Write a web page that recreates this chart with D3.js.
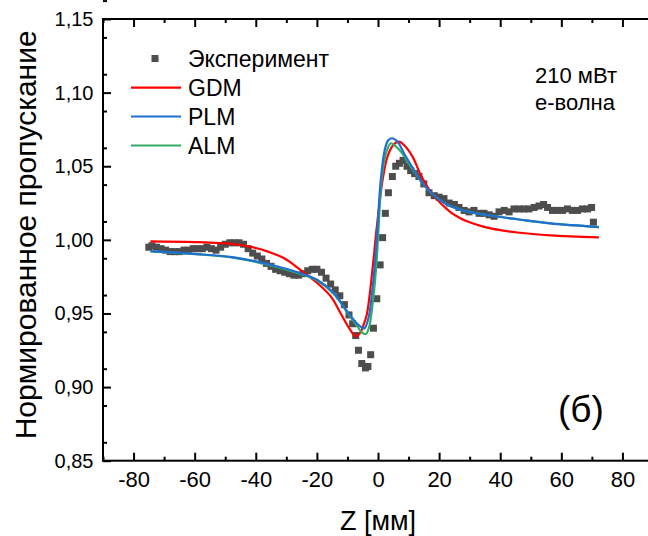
<!DOCTYPE html>
<html><head><meta charset="utf-8">
<script src="https://cdn.jsdelivr.net/npm/d3@7"></script>
<style>
html,body{margin:0;padding:0;background:#fff;}
svg{display:block;}
text{font-family:"Liberation Sans",Arial,sans-serif;fill:#000;}
</style></head>
<body>
<svg id="chart" width="648" height="536"></svg>
<script>
// ---------- data ----------
const expZ = [-75,-74,-72.5,-71,-69.5,-68,-66.5,-65,-63.5,-62,-60.5,-59,-57.5,-56,-54.5,-53,-51.5,-50,-48.5,-47,-45.5,-44,-42.5,-41,-39.5,-38,-36.5,-35,-33.5,-32,-30.5,-29,-27.5,-26,-24.5,-23,-21.5,-20,-18.5,-17,-15.5,-14,-12.5,-11,-9.5,-8.3,-7.3,-6.4,-5.3,-4.1,-3.3,-2.4,-1.5,-0.4,0.7,1.5,2.4,3.4,4.7,5.8,7.0,8.2,9.5,10.7,12.0,13.4,15.0,16.7,18.4,20.0,21.6,23.3,25.0,26.5,28.2,29.8,31.4,33.1,34.7,36.4,38.0,39.6,41.3,42.9,44.5,46.2,47.8,49.4,51.1,52.7,54.2,55.5,57.1,58.7,60.4,62.0,63.6,65.3,66.9,68.6,69.9,70.5];
const expV = [0.995,0.996,0.995,0.994,0.993,0.992,0.992,0.992,0.993,0.993,0.994,0.994,0.994,0.995,0.994,0.993,0.995,0.997,0.998,0.998,0.998,0.997,0.994,0.991,0.989,0.987,0.984,0.982,0.980,0.979,0.978,0.977,0.976,0.976,0.977,0.979,0.980,0.980,0.978,0.974,0.970,0.966,0.962,0.956,0.949,0.943,0.935,0.925,0.916,0.913,0.914,0.922,0.940,0.960,0.983,1.0015,1.018,1.032,1.043,1.050,1.052,1.054,1.050,1.047,1.045,1.043,1.038,1.032,1.030,1.029,1.028,1.025,1.024,1.022,1.020,1.019,1.020,1.018,1.018,1.017,1.016,1.019,1.020,1.019,1.021,1.021,1.021,1.021,1.022,1.023,1.024,1.022,1.020,1.020,1.020,1.021,1.020,1.020,1.021,1.021,1.022,1.012];

const gdmZ = [-74.5,-60,-47,-40,-36,-30.7,-25.3,-19.8,-15.4,-12.2,-9.4,-7.3,-5.8,-4.6,-3.6,-1.6,-0.5,1.5,3.1,5.0,6.9,8.5,11.3,14.0,17.3,20.5,23.8,27.1,29.3,34.7,40,45.6,56.5,72.3];
const gdmV = [0.9990,0.9985,0.9970,0.9945,0.9920,0.9875,0.9795,0.9705,0.9614,0.9500,0.9399,0.9345,0.9370,0.9430,0.9500,0.9840,1.0067,1.0406,1.0565,1.0645,1.0667,1.0644,1.0565,1.0440,1.0325,1.0248,1.0187,1.0145,1.0124,1.0088,1.0066,1.0050,1.0031,1.0017];

const plmZ = [-74.5,-60,-47.1,-36.2,-25.3,-19.8,-14.4,-10,-6.7,-4.5,-3.0,-2.1,-1.0,-0.2,0.9,2.2,3.3,4.5,6.4,8.5,11.8,15.1,19.5,23.8,29.3,34.7,40,45.6,56.5,72.3];
const plmV = [0.9924,0.9905,0.9881,0.9836,0.9773,0.9727,0.9637,0.9512,0.9428,0.9399,0.9480,0.9614,0.9840,1.0067,1.0406,1.0610,1.0675,1.0690,1.0667,1.0588,1.0474,1.0373,1.0282,1.0228,1.0192,1.0172,1.0155,1.0140,1.0112,1.0087];

const almZ = [-74.5,-60,-47.1,-36.2,-25.3,-19.8,-14.4,-10,-7,-5.2,-4.0,-3.0,-1.5,-0.5,0.15,1.2,2.5,4.2,5.5,7.5,10,12,15.1,19.5,23.8,29.3,34.7,40,45.6,56.5,72.3];
const almV = [0.9922,0.9903,0.9878,0.9832,0.9768,0.9722,0.9630,0.9505,0.9420,0.9370,0.9360,0.9400,0.9614,0.9840,1.0067,1.0406,1.0580,1.0656,1.0640,1.0599,1.0520,1.0460,1.0370,1.0282,1.0228,1.0192,1.0172,1.0155,1.0140,1.0112,1.0087];

const xTicks = [-80,-60,-40,-20,0,20,40,60,80];
const yTicks = [0.85,0.90,0.95,1.00,1.05,1.10,1.15];
const legendLabels = ["Эксперимент","GDM","PLM","ALM"];
const annotation = ["210 мВт","е-волна"];
const panelLabel = "(б)";
const xTitle = "Z [мм]";
const yTitle = "Нормированное пропускание";

// ---------- layout ----------
const L = 103, T = 19, R = 653, B = 460.7;
const svg = d3.select("#chart");
const x = d3.scaleLinear().domain([-90, 90]).range([L, R]);
const y = d3.scaleLinear().domain([0.85, 1.15]).range([B, T]);
const ru = d3.formatLocale({decimal: ",", thousands: " ", grouping: [3], currency: ["", ""]});
const fy = ru.format(".2f");

const colors = {gdm: "#ff0000", plm: "#1f6fd3", alm: "#33ad64", exp: "#4d4d4d"};

// experimental points
const exp = expZ.map((z, i) => ({z, v: expV[i]}));
svg.append("g").selectAll("rect").data(exp).join("rect")
  .attr("x", d => x(d.z) - 3.5).attr("y", d => y(d.v) - 3.5)
  .attr("width", 7).attr("height", 7).attr("fill", colors.exp);

// curves
const line = d3.line().x(d => x(d[0])).y(d => y(d[1])).curve(d3.curveCatmullRom.alpha(0.5));
function drawCurve(zs, vs, c) {
  svg.append("path").datum(zs.map((z, i) => [z, vs[i]]))
    .attr("d", line).attr("fill", "none").attr("stroke", c).attr("stroke-width", 2.2)
    .attr("stroke-linejoin", "round");
}
drawCurve(gdmZ, gdmV, colors.gdm);
drawCurve(almZ, almV, colors.alm);
drawCurve(plmZ, plmV, colors.plm);

// axes
const xMinor = d3.range(-90, 91, 10).filter(v => v % 20 !== 0);
const yMinor = d3.range(0, 13).map(i => 0.8625 + i * 0.025);

function styleAxis(g) {
  g.select(".domain").remove();
  g.selectAll(".tick line").attr("stroke", "#000").attr("stroke-width", 2);
}
svg.append("g").attr("transform", `translate(0,${B})`)
  .call(d3.axisBottom(x).tickValues(xTicks).tickSize(-8).tickSizeOuter(0).tickPadding(11).tickFormat(d => String(d)))
  .call(styleAxis)
  .call(g => g.selectAll("text").attr("font-size", 22));
svg.append("g").attr("transform", `translate(0,${B})`)
  .call(d3.axisBottom(x).tickValues(xMinor).tickSize(-4).tickFormat(""))
  .call(styleAxis);
svg.append("g").attr("transform", `translate(0,${T})`)
  .call(d3.axisTop(x).tickValues(xTicks).tickSize(-8).tickFormat(""))
  .call(styleAxis);
svg.append("g").attr("transform", `translate(0,${T})`)
  .call(d3.axisTop(x).tickValues(xMinor).tickSize(-4).tickFormat(""))
  .call(styleAxis);
svg.append("g").attr("transform", `translate(${L},0)`)
  .call(d3.axisLeft(y).tickValues(yTicks).tickSize(-8).tickPadding(9.5).tickFormat(fy))
  .call(styleAxis)
  .call(g => g.selectAll("text").attr("font-size", 20));
svg.append("g").attr("transform", `translate(${L},0)`)
  .call(d3.axisLeft(y).tickValues(yMinor).tickSize(-4).tickFormat(""))
  .call(styleAxis);

// frame
svg.append("rect").attr("x", L).attr("y", T).attr("width", R - L).attr("height", B - T)
  .attr("fill", "none").attr("stroke", "#000").attr("stroke-width", 2);

// titles
svg.append("text").attr("x", x(0)).attr("y", 530).attr("text-anchor", "middle")
  .attr("font-size", 27).text(xTitle);
svg.append("text").attr("transform", `translate(36,${(T + B) / 2 - 5}) rotate(-90)`)
  .attr("text-anchor", "middle").attr("font-size", 30).text(yTitle);

// legend
const lg = svg.append("g");
const rowY = [58.5, 87.6, 116.5, 145.5];
lg.append("rect").attr("x", 155 - 3.5).attr("y", rowY[0] - 3.5).attr("width", 7).attr("height", 7).attr("fill", colors.exp);
[colors.gdm, colors.plm, colors.alm].forEach((c, i) => {
  lg.append("line").attr("x1", 131).attr("x2", 181).attr("y1", rowY[i + 1]).attr("y2", rowY[i + 1])
    .attr("stroke", c).attr("stroke-width", 2.2);
});
legendLabels.forEach((t, i) => {
  lg.append("text").attr("x", 188).attr("y", rowY[i]).attr("dy", "0.36em").attr("font-size", 23).text(t);
});

// annotations
svg.append("text").attr("x", 535).attr("y", 82.7).attr("font-size", 22).text(annotation[0]);
svg.append("text").attr("x", 535).attr("y", 110).attr("font-size", 22).text(annotation[1]);
svg.append("text").attr("x", 558).attr("y", 422).attr("font-size", 37).text(panelLabel);
</script>
</body></html>
